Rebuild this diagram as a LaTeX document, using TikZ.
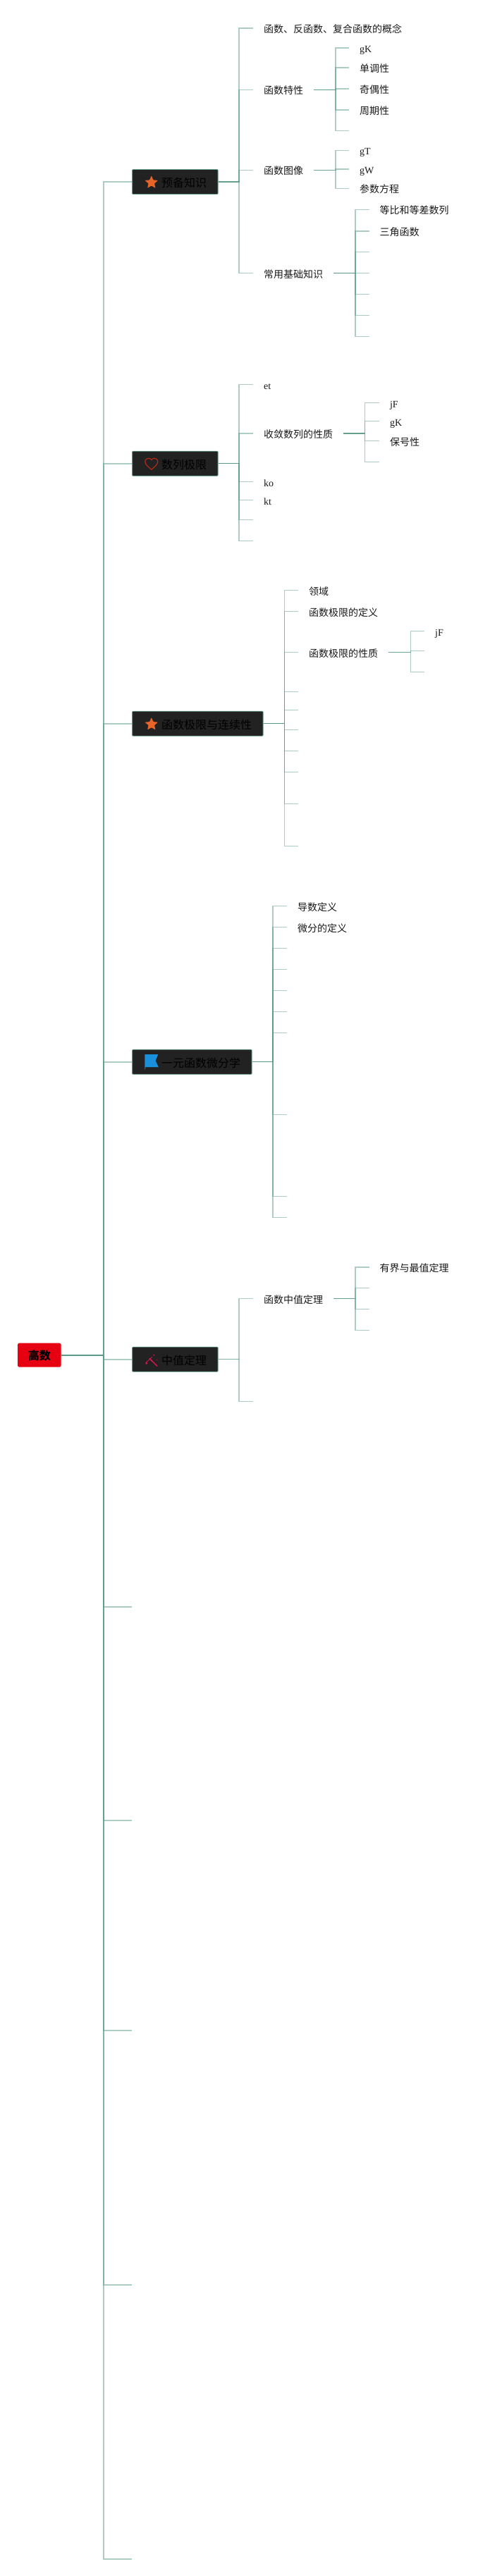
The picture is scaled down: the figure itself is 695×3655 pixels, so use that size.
\documentclass[tikz,border=0pt]{standalone}
\usepackage{fontspec}
\setmainfont{Liberation Serif}
\newfontfamily\cjk{Noto Sans CJK SC}
\usetikzlibrary{shapes.geometric}
\definecolor{linkc}{HTML}{5B9A88}
\definecolor{boxc}{HTML}{222222}
\definecolor{rootc}{HTML}{E60012}
\definecolor{starc}{HTML}{E8652A}
\definecolor{heartc}{HTML}{B5291C}
\definecolor{flagc}{HTML}{1890DB}
\definecolor{wandc}{HTML}{E0124F}
\tikzset{
  link/.style={draw=linkc,draw opacity=.5,line width=1.5pt,line join=miter},
  mainlink/.style={link,line width=2pt},
  rootbox/.style={fill=rootc,rounded corners=2.5pt,minimum width=61.7pt,minimum height=34pt,inner sep=0pt,text height=14.2pt,text depth=0pt,font=\cjk\bfseries\fontsize{16}{16}\selectfont,text=black},
  topicbox/.style={anchor=west,fill=boxc,draw=linkc,line width=.8pt,rounded corners=1pt,minimum height=35pt,inner ysep=0pt,inner xsep=0pt,text height=14.8pt,text depth=0pt,font=\cjk\fontsize{16}{16}\selectfont,text=black},
  leaf/.style={anchor=west,inner xsep=14.6pt,inner ysep=0pt,text height=12.6pt,text depth=0pt,font=\cjk\fontsize{14}{14}\selectfont,text=black!90},
  latin/.style={leaf,font=\fontsize{14}{14}\selectfont},
  staricon/.style={star,star points=5,star point ratio=2.2,fill=starc,rounded corners=.8pt,minimum size=19.5pt,inner sep=0pt},
}
\newcommand{\kids}[4][link]{\foreach \k in {#4}{\path[#1] (#2.east) -- (#3,0 |- #2.east) -- (#3,0 |- \k) -- (\k);}}
\newcommand{\topictext}[1]{\hspace*{41.6pt}#1\hspace*{15.9pt}}
\begin{document}
\begin{tikzpicture}[x=1pt,y=-1pt]
\useasboundingbox (0,0) rectangle (695,3655);

% root and topics
\node[rootbox] (root) at (55.85,1922.7) {高数};
\node[topicbox] (t1) at (187.2,258) {\topictext{预备知识}};
\node[topicbox] (t2) at (187.2,657.7) {\topictext{数列极限}};
\node[topicbox] (t3) at (187.2,1026.7) {\topictext{函数极限与连续性}};
\node[topicbox] (t4) at (187.2,1506.7) {\topictext{一元函数微分学}};
\node[topicbox] (t5) at (187.2,1928.7) {\topictext{中值定理}};
\coordinate (t6) at (187,2280);
\coordinate (t7) at (187,2583);
\coordinate (t8) at (187,2881);
\coordinate (t9) at (187,3242);
\coordinate (t10) at (187,3631);
\kids[mainlink]{root}{146.7}{t1,t2,t3,t4,t5,t6,t7,t8,t9,t10}

% icons
\node[staricon] (ic1) at (214.8,259) {};
\coordinate (ic2) at (214.8,657.7);
\draw[shift={(ic2)},draw=heartc,line width=1.2pt]
  (0,8.5) .. controls (-4,5) and (-9,1.5) .. (-9,-2.5)
  .. controls (-9,-6) and (-6,-7.5) .. (-4,-7.5)
  .. controls (-2.2,-7.5) and (-.8,-6.5) .. (0,-5)
  .. controls (.8,-6.5) and (2.2,-7.5) .. (4,-7.5)
  .. controls (6,-7.5) and (9,-6) .. (9,-2.5)
  .. controls (9,1.5) and (4,5) .. (0,8.5) -- cycle;
\node[staricon] (ic3) at (214.8,1027.7) {};
\coordinate (ic4) at (214.8,1506.7);
\fill[shift={(ic4)},fill=flagc] (-9.4,-10.7) -- (9.4,-10.7) -- (5.8,-1.7) -- (10,7.3) -- (-8.7,7.3) -- (-8.7,10.7) -- (-9.4,10.7) -- cycle;
\coordinate (ic5) at (214.8,1928.7);
\begin{scope}[shift={(ic5)},draw=wandc,fill=wandc]
  \draw[line width=1.5pt] (-2.9,-1.3) -- (8.3,9.7);
  \draw[line width=.8pt] (-7.9,4.7) -- (.8,-3.3);
  \fill (3.6,-6) circle (1pt);
  \fill (7.6,.7) circle (.6pt);
  \fill (-7,5.5) circle (1.6pt);
\end{scope}

% topic 1
\node[leaf] (a1) at (359.3,40) {函数、反函数、复合函数的概念};
\node[leaf] (a2) at (359.3,127.7) {函数特性};
\node[leaf] (a3) at (359.3,241.7) {函数图像};
\node[leaf] (a4) at (359.3,387.7) {常用基础知识};
\kids{t1}{339}{a1,a2,a3,a4}
\node[latin] (a21) at (495.4,68) {gK};
\node[leaf] (a22) at (495.4,96) {单调性};
\node[leaf] (a23) at (495.4,126) {奇偶性};
\node[leaf] (a24) at (495.4,156) {周期性};
\coordinate (a25) at (495.4,185.7);
\kids{a2}{475.9}{a21,a22,a23,a24,a25}
\node[latin] (a31) at (495.4,213.7) {gT};
\node[latin] (a32) at (495.4,240) {gW};
\node[leaf] (a33) at (495.4,267.7) {参数方程};
\kids{a3}{475.9}{a31,a32,a33}
\node[leaf] (a41) at (523.7,297.7) {等比和等差数列};
\node[leaf] (a42) at (523.7,328) {三角函数};
\coordinate (a43) at (523.7,357.7);
\coordinate (a44) at (523.7,387.7);
\coordinate (a45) at (523.7,417.7);
\coordinate (a46) at (523.7,447.7);
\coordinate (a47) at (523.7,477.7);
\kids{a4}{503.8}{a41,a42,a43,a44,a45,a46,a47}

% topic 2
\node[latin] (b1) at (359.3,545.7) {et};
\node[leaf] (b2) at (359.3,615) {收敛数列的性质};
\node[latin] (b3) at (359.3,683.7) {ko};
\node[latin] (b4) at (359.3,709.7) {kt};
\coordinate (b5) at (359.3,737.7);
\coordinate (b6) at (359.3,767.7);
\kids{t2}{339}{b1,b2,b3,b4,b5,b6}
\node[latin] (b21) at (538.2,571.7) {jF};
\node[latin] (b22) at (538.2,597.7) {gK};
\node[leaf] (b23) at (538.2,625.7) {保号性};
\coordinate (b24) at (538.2,655.7);
\kids{b2}{517.5}{b21,b22,b23,b24}

% topic 3
\node[leaf] (c1) at (423.4,837.7) {领域};
\node[leaf] (c2) at (423.4,867.7) {函数极限的定义};
\node[leaf] (c3) at (423.4,925.7) {函数极限的性质};
\coordinate (c4) at (423.4,981.7);
\coordinate (c5) at (423.4,1007.7);
\coordinate (c6) at (423.4,1035.7);
\coordinate (c7) at (423.4,1065.7);
\coordinate (c8) at (423.4,1095.7);
\coordinate (c9) at (423.4,1140.7);
\coordinate (c10) at (423.4,1200.7);
\kids{t3}{403.4}{c1,c2,c3,c4,c5,c6,c7,c8,c9,c10}
\node[latin] (c31) at (602.3,895.7) {jF};
\coordinate (c32) at (602.3,923.7);
\coordinate (c33) at (602.3,953.7);
\kids{c3}{582.4}{c31,c32,c33}

% topic 4
\node[leaf] (d1) at (407.4,1285.7) {导数定义};
\node[leaf] (d2) at (407.4,1315.7) {微分的定义};
\coordinate (d3) at (407.4,1345.7);
\coordinate (d4) at (407.4,1375.7);
\coordinate (d5) at (407.4,1405.7);
\coordinate (d6) at (407.4,1435.7);
\coordinate (d7) at (407.4,1465.7);
\coordinate (d8) at (407.4,1581.7);
\coordinate (d9) at (407.4,1697.7);
\coordinate (d10) at (407.4,1727.7);
\kids{t4}{387.2}{d1,d2,d3,d4,d5,d6,d7,d8,d9,d10}

% topic 5
\node[leaf] (e1) at (359.3,1842.7) {函数中值定理};
\coordinate (e2) at (359.3,1988.7);
\kids{t5}{339}{e1,e2}
\node[leaf] (e11) at (523.7,1798) {有界与最值定理};
\coordinate (e12) at (523.7,1827.7);
\coordinate (e13) at (523.7,1857.7);
\coordinate (e14) at (523.7,1887.7);
\kids{e1}{503.8}{e11,e12,e13,e14}
\end{tikzpicture}
\end{document}
